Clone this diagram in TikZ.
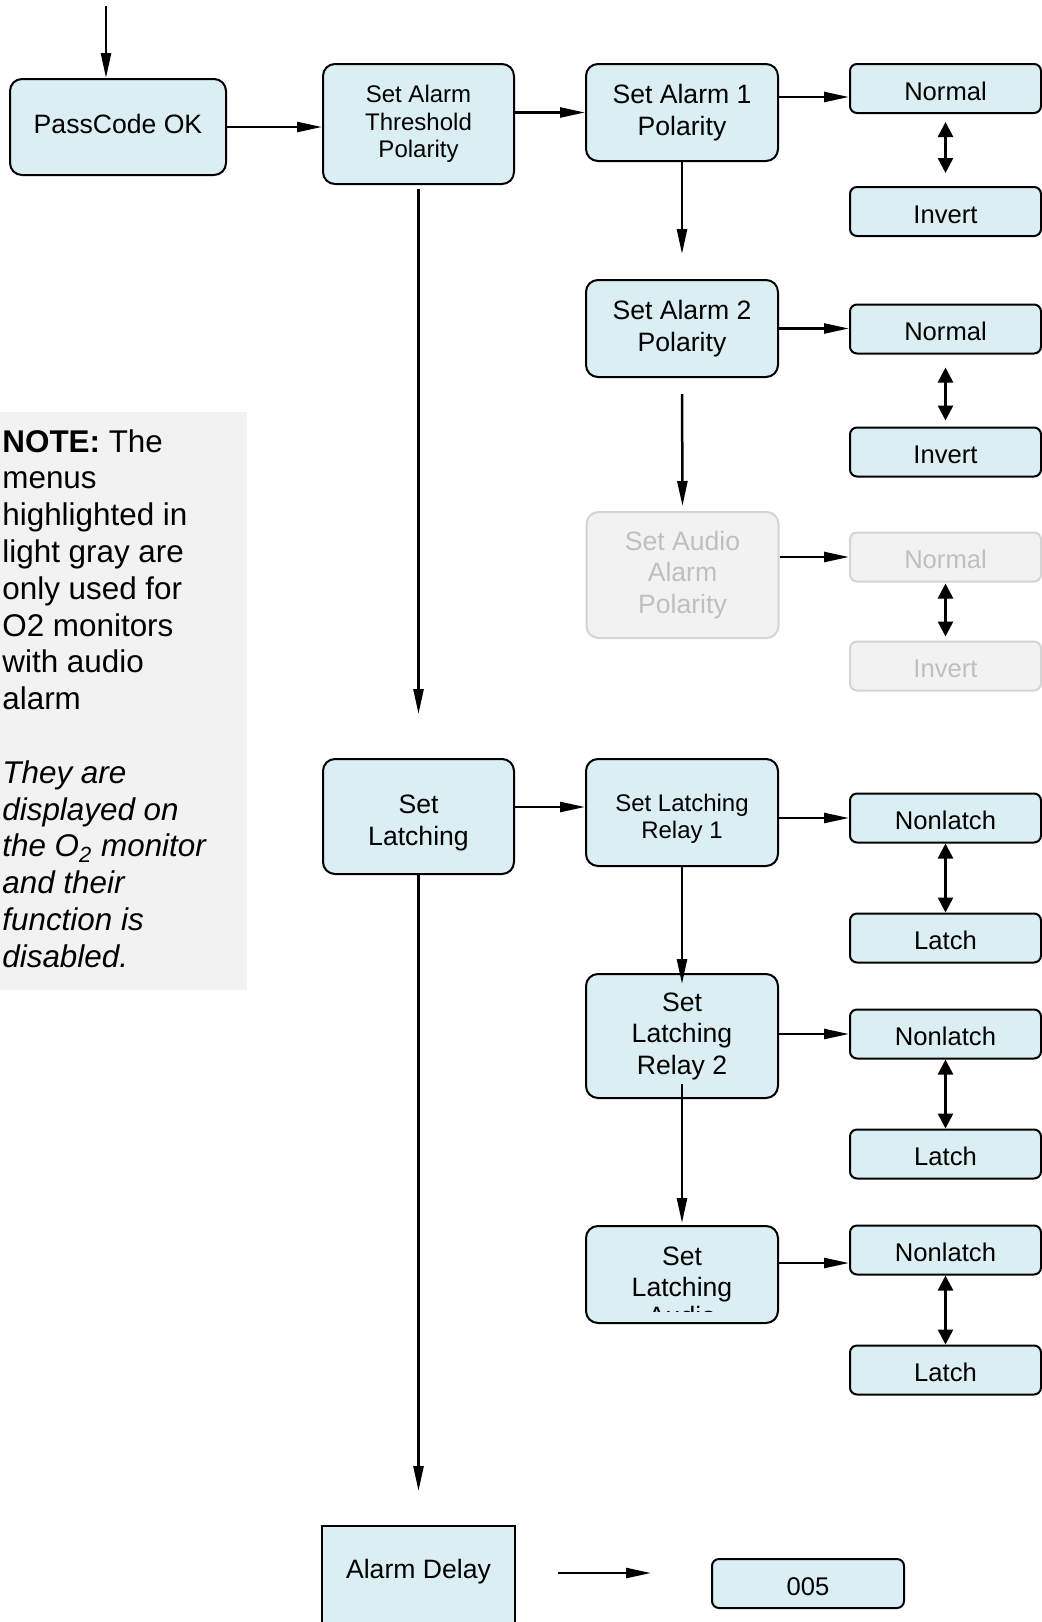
\documentclass[tikz,border=0pt]{standalone}
\usepackage{fontspec}
\setmainfont{Liberation Sans}
\usetikzlibrary{arrows.meta}
\definecolor{menublue}{HTML}{DAEEF3}
\definecolor{menugray}{HTML}{F2F2F2}
\definecolor{menuline}{HTML}{D4D4D4}
\definecolor{menutext}{HTML}{BFBFBF}
\newcommand{\menufont}{\fontsize{13.3}{15.75}\selectfont}
\newcommand{\menusmall}{\fontsize{12}{13.75}\selectfont}
\newcommand{\optfont}{\fontsize{12.8}{15.75}\selectfont}
\newcommand{\notefont}{\fontsize{15.7}{18.4}\selectfont}

\begin{document}
\begin{tikzpicture}[x=0.5pt,y=-0.5pt]

      \useasboundingbox (0,0) rectangle (1042,1622);
      \clip (0,0) rectangle (1042,1622);

      \fill[menugray] (0,412) rectangle (247,990);
      \node[anchor=north west, inner sep=0pt, align=left, font=\notefont] (note) at (2,429)
        {\textbf{NOTE:} The\\menus\\highlighted in\\light gray are\\only used for\\O2 monitors\\with audio\\alarm\\[18.4pt]
         \textit{They are}\\\textit{displayed on}\\\textit{the O\textsubscript{2} monitor}\\\textit{and their}\\\textit{function is}\\\textit{disabled.}};

      \coordinate (start) at (106,6);

      \begin{scope}[every node/.style={draw, fill=menublue, line width=1pt, rounded corners=6pt, align=center, font=\menufont, minimum width=96pt}]
        \node[minimum width=108pt, minimum height=48pt, text depth=3.5pt] (pass) at (118,127) {PassCode OK};
        \node[minimum width=95.5pt, minimum height=60pt, font=\menusmall] (thr) at (418.5,124) {Set Alarm\\Threshold\\Polarity};
        \node[minimum height=48.5pt] (a1)  at (682,112.5)  {Set Alarm 1\\Polarity};
        \node[minimum height=48.5pt] (a2)  at (682,328.5)  {Set Alarm 2\\Polarity};
        \node[minimum height=63pt, draw=menuline, fill=menugray, text=menutext] (aud) at (682.5,575) {Set Audio\\Alarm\\Polarity};
        \node[minimum width=95.5pt, minimum height=57.5pt] (lat) at (418.5,816.5) {\rule{0pt}{15.8pt}Set\\Latching};
        \node[minimum height=53.5pt, font=\menusmall] (r1) at (682,812.5) {\rule{0pt}{14.8pt}Set Latching\\Relay 1};
        \node[minimum height=62pt]   (r2)  at (682,1036)   {Set\\Latching\\Relay 2};
        \node[minimum height=48.5pt] (r3)  at (682,1274.5) {Set\\Latching};
        \node[sharp corners, minimum width=96.5pt, minimum height=57pt, text height=9.4pt, text depth=14.4pt] (del) at (418.5,1583) {Alarm Delay};
      \end{scope}

      \begin{scope}
        \clip (586,1226) rectangle (779,1311);
        \node[anchor=base, inner sep=0pt, font=\menufont] (r3x) at (682,1325) {Audio};
      \end{scope}

      \begin{scope}[every node/.style={draw, fill=menublue, line width=1pt, rounded corners=3.5pt, font=\optfont, minimum width=95.5pt, minimum height=24.5pt, text height=11.9pt, text depth=0pt}]
        \node (n1)  at (945.5,88.5)  {Normal};
        \node (i1)  at (945.5,211.5) {Invert};
        \node (n2)  at (945.5,329)   {Normal};
        \node (i2)  at (945.5,452)   {Invert};
        \node[draw=menuline, fill=menugray, text=menutext] (n3) at (945.5,557) {Normal};
        \node[draw=menuline, fill=menugray, text=menutext] (i3) at (945.5,666) {Invert};
        \node (nl1) at (945.5,818)   {Nonlatch};
        \node (l1)  at (945.5,938)   {Latch};
        \node (nl2) at (945.5,1034)  {Nonlatch};
        \node (l2)  at (945.5,1154)  {Latch};
        \node (nl3) at (945.5,1250)  {Nonlatch};
        \node (l3)  at (945.5,1370)  {Latch};
        \node[minimum width=96pt] (ok) at (808,1583.5) {005};
      \end{scope}

      \begin{scope}[every edge/.style={draw, line width=1.25pt, -{Triangle[length=12.5pt,width=5pt]}}]
        \path (start) edge (start |- pass.north);
        \path (pass.east) edge (pass.east -| thr.west);
        \path (a1.west -| thr.east) edge (a1.west);
        \path ([yshift=-4.25pt]n1.west -| a1.east) edge ([yshift=-4.25pt]n1.west);
        \path (a1.south) edge[shorten >=12.5pt] (a2.north);
        \path (a2.east) edge (a2.east -| n2.west);
        \path (a2.south) edge[shorten <=8pt, shorten >=2.5pt] (aud.north);
        \path (n3.west -| aud.east) edge (n3.west);
        \path (thr.south) edge[shorten <=2pt, shorten >=22pt] (lat.north);
        \path ([yshift=2.75pt]r1.west -| lat.east) edge ([yshift=2.75pt]r1.west);
        \path (nl1.west -| r1.east) edge (nl1.west);
        \path (r1.south) edge[shorten >=-5.5pt] (r2.north);
        \path (nl2.west -| r2.east) edge (nl2.west);
        \path (r2.south) edge[shorten <=-7.5pt, shorten >=1pt] (r3.north);
        \path ([yshift=-6.5pt]nl3.west -| r3.east) edge ([yshift=-6.5pt]nl3.west);
        \path (lat.south) edge[shorten >=17pt] (del.north);
        \path ([yshift=5.25pt]ok.west -| del.east) edge[shorten <=21pt, shorten >=30pt] ([yshift=5.25pt]ok.west);
      \end{scope}

      \begin{scope}[every edge/.style={draw, line width=1.25pt, {Triangle[length=7.5pt,width=7.5pt]}-{Triangle[length=7.5pt,width=7.5pt]}}]
        \path (n1.south)  edge[shorten <=4pt, shorten >=6.5pt] (i1.north);
        \path (n2.south)  edge[shorten <=6.5pt, shorten >=3pt] (i2.north);
        \path (n3.south)  edge[shorten <=0.5pt, shorten >=2pt] (i3.north);
        \path (nl1.south) edge (l1.north);
        \path (nl2.south) edge (l2.north);
        \path (nl3.south) edge (l3.north);
      \end{scope}

    \end{tikzpicture}
\end{document}
